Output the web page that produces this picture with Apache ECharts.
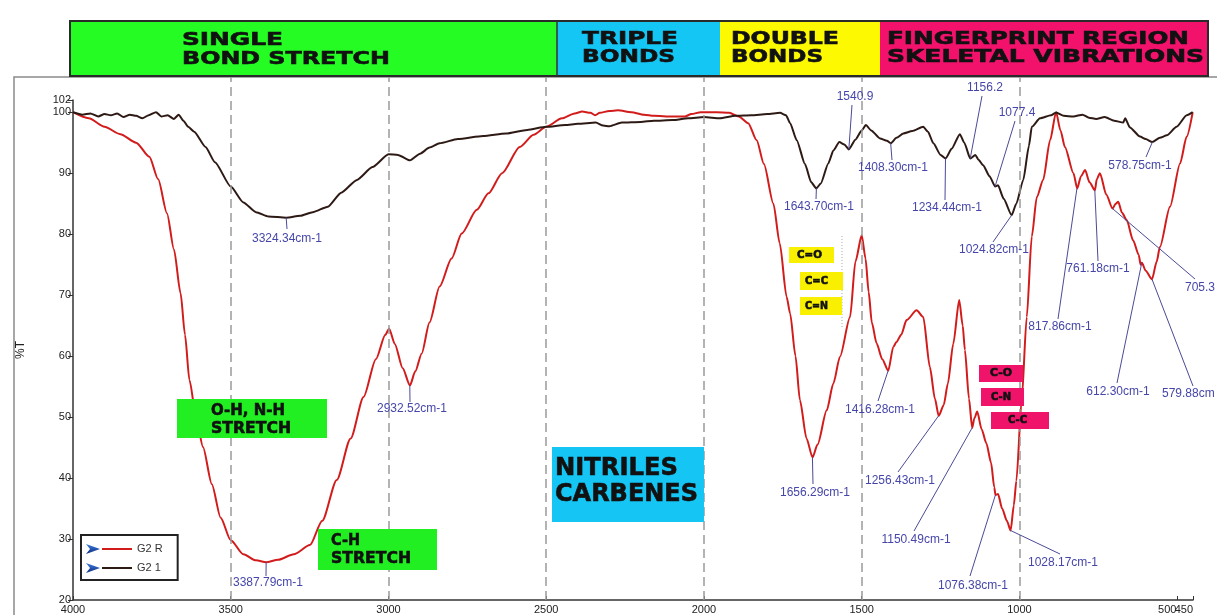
<!DOCTYPE html>
<html><head><meta charset="utf-8">
<script src="https://cdn.jsdelivr.net/npm/echarts@6/dist/echarts.min.js"></script>
<style>html,body{margin:0;padding:0;background:#fff}#c{width:1217px;height:615px}</style>
</head><body><div id="c"></div>
<script>
// ---------- DATA ----------
const seriesNames = ['G2 R', 'G2 1'];
const xTickValues = [4000, 3500, 3000, 2500, 2000, 1500, 1000, 500, 450];
const xLabelValues = [4000, 3500, 3000, 2500, 2000, 1500, 1000, 500];
const xEndLabelValues = [450];
const yTickValues = [20, 30, 40, 50, 60, 70, 80, 90, 100, 102];
const gridLineValues = [3500, 3000, 2500, 2000, 1500, 1000];

const redWn = [4000,3950,3900,3850,3800,3758,3730,3702,3680,3659,3645,3631,3610,3588,3560,3532,3500,3460,3420,3388,3350,3300,3249,3210,3164,3120,3079,3040,3010,2998,2980,2955,2932,2915,2895,2870,2838,2800,2768,2720,2683,2640,2584,2540,2500,2450,2410,2386,2360,2345,2330,2300,2273,2230,2190,2159,2100,2060,2040,2010,1960,1920,1890,1860,1833,1810,1780,1760,1738,1727,1710,1696,1675,1656,1640,1611,1590,1569,1537,1520,1500,1488,1478,1468,1453,1435,1416,1400,1390,1375,1358,1326,1305,1284,1268,1256,1240,1227,1210,1191,1180,1173,1160,1150,1143,1134,1120,1105,1090,1080,1076,1068,1055,1040,1028,1018,1010,993,977,961,945,925,903,884,870,856,829,817,805,792,778,761,755,745,725,705,695,687,675,660,640,622,616,612,600,580,565,555,523,491,470,451];
const redT = [100,99.0,97.6,96.4,95.0,92.7,89.0,83.4,77.5,70.3,63.5,56.1,50.0,45.1,39.0,33.5,29.8,27.5,26.5,26.2,26.6,27.5,29.0,33.0,39.7,46.5,53.3,59.5,63.5,64.5,62.0,58.0,55.2,57.5,60.4,65.5,71.4,76.0,80.1,84.0,86.7,90.0,94.3,96.3,97.6,99.0,99.8,100.1,99.9,99.5,99.9,100.2,100.3,100.0,99.6,99.4,99.3,99.3,99.7,100.0,100.0,99.9,99.3,98.2,95.4,91.5,85.0,78.5,69.7,67.0,60.0,52.8,46.5,43.4,45.5,51.1,55.5,59.9,66.4,75.5,79.8,76.0,70.5,65.5,62.1,59.5,57.6,61.5,62.3,63.5,65.9,67.5,66.4,58.2,53.0,50.2,52.0,55.5,62.0,69.2,65.0,61.0,53.0,48.2,49.8,50.9,48.0,45.7,42.5,38.5,37.2,37.4,35.0,33.0,31.4,35.5,39.5,52.8,66.4,79.6,86.1,88.9,95.4,100.0,97.0,94.3,90.0,87.5,89.5,90.5,88.5,87.2,89.0,90.0,86.5,84.2,85.0,85.3,83.5,82.3,79.0,76.6,75.0,75.3,74.0,72.6,75.5,77.9,84.5,91.6,96.0,100.0];

const blackWn = [4000,3970,3945,3920,3900,3880,3860,3840,3820,3800,3780,3760,3737,3720,3700,3680,3665,3650,3635,3616,3580,3550,3500,3460,3420,3380,3324,3280,3240,3192,3150,3100,3051,3000,2970,2932,2900,2870,2838,2780,2700,2628,2560,2500,2440,2400,2343,2320,2300,2260,2200,2159,2100,2050,2000,1950,1900,1850,1800,1759,1740,1727,1706,1680,1660,1644,1630,1606,1590,1571,1555,1541,1520,1500,1487,1470,1442,1420,1408,1390,1368,1340,1305,1290,1273,1250,1234,1215,1189,1175,1156,1140,1130,1115,1095,1077,1068,1050,1025,1010,988,970,961,935,900,884,860,829,800,780,757,730,700,671,665,650,618,600,579,555,533,502,470,451];
const blackT = [100,99.6,99.8,99.3,99.7,99.5,99.8,99.2,99.6,99.4,99.0,99.5,100.0,99.3,99.5,98.9,99.6,98.6,97.6,96.8,94.3,91.8,87.8,85.2,83.6,82.9,82.7,83.0,83.6,84.5,86.8,88.9,91.0,93.1,93.0,92.1,93.2,94.2,94.9,95.6,96.1,96.5,97.1,97.6,97.9,98.1,98.3,97.8,97.7,98.3,98.4,98.6,98.7,99.0,99.2,99.0,99.4,99.5,99.7,99.9,99.5,98.2,95.4,91.5,88.5,87.5,88.3,91.6,93.7,95.1,94.7,93.9,95.5,97.0,97.9,97.0,95.7,95.3,94.9,95.8,96.5,96.9,97.6,96.8,94.9,93.0,92.4,94.0,96.4,95.0,92.4,93.0,92.2,91.3,89.5,87.8,88.0,85.8,83.1,85.0,88.9,94.5,97.6,99.0,99.5,99.95,99.4,99.3,99.6,99.1,98.9,99.2,98.6,98.3,99.0,97.5,96.0,95.6,95.1,95.8,96.2,97.6,99.5,100];

// peak annotations (text, and the point on the curve they point to)
const peakLabels = ['3324.34cm-1','2932.52cm-1','3387.79cm-1','1643.70cm-1','1540.9','1408.30cm-1','1234.44cm-1','1156.2','1077.4','1024.82cm-1','578.75cm-1','761.18cm-1','817.86cm-1','705.3','612.30cm-1','579.88cm','1656.29cm-1','1416.28cm-1','1256.43cm-1','1150.49cm-1','1076.38cm-1','1028.17cm-1'];
const peakWn = [3324.34,2932.52,3387.79,1643.70,1540.9,1408.30,1234.44,1156.2,1077.4,1024.82,578.75,761.18,817.86,705.3,612.30,579.88,1656.29,1416.28,1256.43,1150.49,1076.38,1028.17];
const peakT = [82.7,55.2,26.2,87.5,93.9,94.9,92.4,92.4,87.8,83.1,95.1,87.2,87.5,84.2,75.3,72.6,43.4,57.6,50.2,48.2,37.2,31.4];

// ---------- LAYOUT (pixels) ----------
// [textX, textY, leaderEndX, leaderEndY, align]
const labelLayout = [
  [287,239,287,229,'center'],[412,409,410,402,'center'],[268,583,266,576,'center'],
  [819,207,816,199,'center'],[855,97,852,105,'center'],[893,168,892,160,'center'],
  [947,208,945,200,'center'],[985,88,982,96,'center'],[1017,113,1015,121,'center'],
  [994,250,993,242,'center'],[1140,166,1146,157,'center'],[1098,269,1098,261,'center'],
  [1060,327,1058,319,'center'],[1185,288,1195,279,'left'],[1118,392,1117,383,'center'],
  [1162,394,1193,386,'left'],[815,493,813,484,'center'],[880,410,878,401,'center'],
  [900,481,898,472,'center'],[916,540,914,531,'center'],[973,586,970,576,'center'],
  [1063,563,1060,554,'center']
];
const headers = [
  {x0:70, x1:557, c:'#24fc24', lines:[['SINGLE',182,40.5,101],['BOND STRETCH',182,59,208]]},
  {x0:557, x1:720, c:'#14c6f4', lines:[['TRIPLE',582,39,96],['BONDS',582,57.5,93]]},
  {x0:720, x1:880, c:'#fdf900', lines:[['DOUBLE',731,39,108],['BONDS',731,57.5,92]]},
  {x0:880, x1:1208, c:'#f2126c', lines:[['FINGERPRINT REGION',887,39,302],['SKELETAL VIBRATIONS',887,57.5,317]]}
];
const boxes = [
  {r:[177,399,150,39], c:'#22ef22', f:16, lines:[['O-H, N-H',211,411,74],['STRETCH',211,429,80]]},
  {r:[318,529,119,41], c:'#22ef22', f:16, lines:[['C-H',331,540.5,29],['STRETCH',331,559,80]]},
  {r:[552,447,152,75], c:'#15c5f3', f:24, lines:[['NITRILES',555,469,123],['CARBENES',555,495,143]]},
  {r:[789,247,45,16], c:'#f8f000', f:10, lines:[['C=O',797,255,25]]},
  {r:[800,272,43,18], c:'#f8f000', f:10, lines:[['C=C',805,281,23]]},
  {r:[800,297,42,18], c:'#f8f000', f:10, lines:[['C=N',805,306,23]]},
  {r:[979,365,44,17], c:'#ef1469', f:10, lines:[['C-O',990,373.5,22]]},
  {r:[981,388,43,18], c:'#ef1469', f:10, lines:[['C-N',991,397,20]]},
  {r:[991,412,58,17], c:'#ef1469', f:10, lines:[['C-C',1008,420.5,19]]}
];

const FONT = '"Liberation Sans", Arial, sans-serif';
const RED = '#d21c1c', BLK = '#2e1a15';
const labelStyle = {fontSize:11, color:'#222', fontFamily:FONT, hideOverlap:false};

const chart = echarts.init(document.getElementById('c'), null, {renderer:'canvas'});
const option = {
  animation: false,
  backgroundColor: '#fff',
  grid: [
    {left:73, right:24, top:100, bottom:15, containLabel:false, outerBoundsMode:'none'},
    {left:73, right:24, top:77, bottom:15, containLabel:false, outerBoundsMode:'none'}
  ],
  xAxis: [
    {gridIndex:0, type:'value', inverse:true, min:450, max:4000,
     axisLine:{show:true, lineStyle:{color:'#333', width:1.5}},
     axisTick:{show:true, inside:true, customValues:xTickValues, length:4, lineStyle:{color:'#333'}},
     axisLabel:Object.assign({show:true, customValues:xLabelValues, margin:4,
       formatter: v => (v === 500 ? '{r|500}' : String(v)),
       rich:{r:{fontSize:11, color:'#222', fontFamily:FONT, padding:[0,20,0,0]}}}, labelStyle),
     splitLine:{show:false}},
    {gridIndex:1, type:'value', inverse:true, min:450, max:4000, show:true,
     axisLine:{show:false}, axisTick:{show:false}, splitLine:{show:false},
     axisLabel:Object.assign({show:true, customValues:xEndLabelValues, margin:4, align:'right',
       formatter: v => String(v)}, labelStyle)}
  ],
  yAxis: [
    {gridIndex:0, type:'value', min:20, max:102,
     axisLine:{show:true, lineStyle:{color:'#333', width:1.5}},
     axisTick:{show:true, customValues:yTickValues, length:5, lineStyle:{color:'#333'}},
     axisLabel:Object.assign({show:true, customValues:yTickValues, margin:2, showMinLabel:true, showMaxLabel:true,
       formatter: v => String(v)}, labelStyle),
     splitLine:{show:false},
     name:'%T', nameLocation:'middle', nameGap:46, nameRotate:90,
     nameTextStyle:{fontSize:12, color:'#222', fontFamily:FONT}},
    {gridIndex:1, type:'value', min:0, max:1, show:false}
  ],
  legend: {
    data: seriesNames.map(n => ({name:n, icon:'rect'})), orient:'vertical', left:81, top:535,
    padding:[7,15,5,21], itemGap:5, itemWidth:30, itemHeight:2,
    borderColor:'#222', borderWidth:2, backgroundColor:'#fff',
    selectedMode:false,
    textStyle:{fontSize:11, color:'#333', fontFamily:FONT, lineHeight:14}
  },
  series: [
    {type:'line', xAxisIndex:1, yAxisIndex:1, data:[], silent:true, z:1,
     markLine:{silent:true, symbol:['none','none'], label:{show:false},
       lineStyle:{color:'#9a9a9a', type:[9,5], width:1.5},
       data: gridLineValues.map(v => ({xAxis:v}))}},
    {name:seriesNames[0], type:'line', xAxisIndex:0, yAxisIndex:0,
     data: redWn.map((w,i) => [w, redT[i]]), symbol:'none', showSymbol:false,
     smooth:0.25, smoothMonotone:'x', lineStyle:{color:RED, width:2}, itemStyle:{color:RED}, z:3},
    {name:seriesNames[1], type:'line', xAxisIndex:0, yAxisIndex:0,
     data: blackWn.map((w,i) => [w, blackT[i]]), symbol:'none', showSymbol:false,
     smooth:0.2, smoothMonotone:'x', lineStyle:{color:BLK, width:2}, itemStyle:{color:BLK}, z:4}
  ]
};
chart.setOption(option);

// ---------- annotations ----------
const meas = document.createElement('canvas').getContext('2d');
function stretched(text, left, cy, width, font, z) {
  meas.font = font;
  const w = meas.measureText(text).width || 1;
  return {type:'text', x:left, y:cy, scaleX: width / w, z:z, silent:true,
    style:{text:text, font:font, fill:'#111', stroke:'#111', lineWidth:0.6, align:'left', verticalAlign:'middle',
           textAlign:'left', textVerticalAlign:'middle'}};
}
const g = [];
// outer frame
g.push({type:'rect', shape:{x:14, y:77, width:1215, height:560}, style:{fill:'none', stroke:'#8a8a8a', lineWidth:1.5}, z:0, silent:true});
// header
headers.forEach(h => {
  g.push({type:'rect', shape:{x:h.x0, y:21, width:h.x1 - h.x0, height:55}, style:{fill:h.c}, z:5, silent:true});
  h.lines.forEach(l => g.push(stretched(l[0], l[1], l[2], l[3], 'bold 18px "DejaVu Sans"', 6)));
});
g.push({type:'rect', shape:{x:70, y:21, width:1138, height:55}, style:{fill:'none', stroke:'#2a2a2a', lineWidth:2}, z:7, silent:true});
g.push({type:'line', shape:{x1:557, y1:21, x2:557, y2:76}, style:{stroke:'#333', lineWidth:1.5}, z:7, silent:true});
// coloured boxes in the plot
boxes.forEach(b => {
  g.push({type:'rect', shape:{x:b.r[0], y:b.r[1], width:b.r[2], height:b.r[3]}, style:{fill:b.c}, z:10, silent:true});
  b.lines.forEach(l => g.push(stretched(l[0], l[1], l[2], l[3], 'bold ' + b.f + 'px "DejaVu Sans"', 11)));
});
// faint dotted line beside the double-bond boxes
g.push({type:'line', shape:{x1:842, y1:236, x2:842, y2:328}, style:{stroke:'#aaa', lineWidth:1, lineDash:[1,2]}, z:9, silent:true});
// peak labels and leaders
peakLabels.forEach((t, i) => {
  const a = chart.convertToPixel({gridIndex:0}, [peakWn[i], peakT[i]]);
  const L = labelLayout[i];
  g.push({type:'line', shape:{x1:a[0], y1:a[1], x2:L[2], y2:L[3]}, style:{stroke:'#4a4a96', lineWidth:1}, z:20, silent:true});
  g.push({type:'text', x:L[0], y:L[1], z:21, silent:true,
    style:{text:t, font:'12px "Liberation Sans"', fill:'#4646aa', align:L[4], verticalAlign:'middle',
           textAlign:L[4], textVerticalAlign:'middle'}});
});
// legend arrow heads
[549, 568].forEach(cy => {
  g.push({type:'polygon', shape:{points:[[86,cy-5],[100,cy],[86,cy+5],[90,cy]]},
    style:{fill:new echarts.graphic.LinearGradient(0,0,0,1,[{offset:0,color:'#3d7fe0'},{offset:1,color:'#0c2a80'}])},
    z:30, silent:true});
});
chart.setOption({graphic: g});
</script></body></html>
